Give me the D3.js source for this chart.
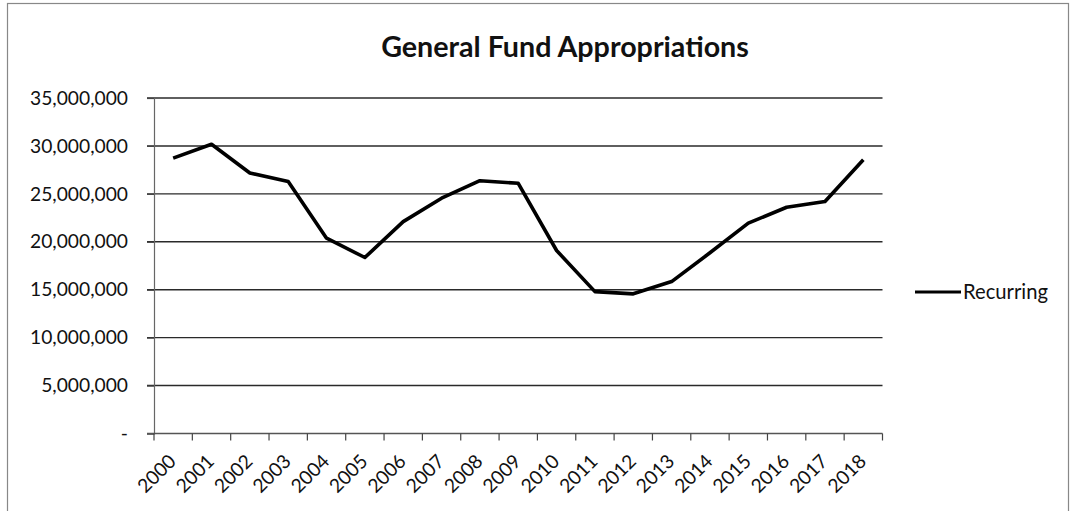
<!DOCTYPE html>
<html>
<head>
<meta charset="utf-8">
<script src="https://cdn.jsdelivr.net/npm/d3@7"></script>
<style>
  html, body { margin: 0; padding: 0; background: #fff; }
  svg { display: block; }
  text { font-family: Lato, "Open Sans", sans-serif; fill: #111; }
</style>
</head>
<body>
<svg id="chart" width="1076" height="511"></svg>
<script>
// ---- data ----
const years = ["2000","2001","2002","2003","2004","2005","2006","2007","2008","2009",
               "2010","2011","2012","2013","2014","2015","2016","2017","2018"];
const recurring = [28730000, 30180000, 27170000, 26300000, 20380000, 18360000, 22100000,
                   24550000, 26370000, 26100000, 19090000, 14800000, 14570000, 15850000,
                   18850000, 21950000, 23600000, 24200000, 28550000];
const yTickValues = [0, 5000000, 10000000, 15000000, 20000000, 25000000, 30000000, 35000000];
const seriesName = "Recurring";
const chartTitle = "General Fund Appropriations";

// ---- layout ----
const svg = d3.select("#chart");
const plot = { left: 154, right: 882.5, top: 98, bottom: 433.5 };

const x = d3.scaleBand().domain(years).range([plot.left, plot.right]);
const y = d3.scaleLinear().domain([0, 35000000]).range([plot.bottom, plot.top]);

// fit text width helper
function fit(sel, target) {
  const node = sel.node();
  const fs = parseFloat(sel.attr("font-size"));
  const w = node.getComputedTextLength();
  sel.attr("font-size", (fs * target / w).toFixed(2));
}

// outer frame
svg.append("rect")
  .attr("x", 7.5).attr("y", 3.5).attr("width", 1061).attr("height", 520)
  .attr("fill", "none").attr("stroke", "#888").attr("stroke-width", 1.2);

// title
const title = svg.append("text")
  .attr("x", 565).attr("y", 57)
  .attr("text-anchor", "middle")
  .attr("font-weight", "bold")
  .attr("font-size", 32)
  .text(chartTitle);
fit(title, 368);

// gridlines
svg.append("g").selectAll("line")
  .data(yTickValues.filter(d => d > 0))
  .join("line")
  .attr("x1", plot.left - 7).attr("x2", plot.right)
  .attr("y1", d => y(d)).attr("y2", d => y(d))
  .attr("stroke", "#2a2a2a").attr("stroke-width", 1.4);

// y axis
const fmt = d3.format(",");
const yAxis = svg.append("g")
  .attr("transform", `translate(${plot.left},0)`)
  .call(d3.axisLeft(y).tickValues(yTickValues).tickSize(7).tickPadding(19)
    .tickFormat(d => d === 0 ? "-" : fmt(d)));
yAxis.select(".domain").attr("stroke", "#666").attr("stroke-width", 1.2);
yAxis.selectAll(".tick line").attr("stroke", "#444").attr("stroke-width", 1.2);
yAxis.selectAll("text").attr("font-size", 19).attr("fill", "#111");
const ref = yAxis.selectAll("text").filter(d => d === 35000000);
const fsY = parseFloat(ref.attr("font-size")) * 98 / ref.node().getComputedTextLength();
yAxis.selectAll("text").attr("font-size", fsY.toFixed(2)).attr("font-family", "Lato, sans-serif");

// x axis line
const xAxis = svg.append("g")
  .attr("transform", `translate(0,${plot.bottom})`)
  .call(d3.axisBottom(x).tickSize(0).tickPadding(0));
xAxis.select(".domain").remove();
svg.append("line")
  .attr("x1", plot.left - 7).attr("x2", plot.right)
  .attr("y1", plot.bottom).attr("y2", plot.bottom)
  .attr("stroke", "#555").attr("stroke-width", 1.4);
// boundary ticks
const bounds = years.map(d => x(d)).concat([x(years[years.length - 1]) + x.bandwidth()]);
svg.append("g").selectAll("line").data(bounds).join("line")
  .attr("x1", d => d).attr("x2", d => d)
  .attr("y1", plot.bottom).attr("y2", plot.bottom + 7)
  .attr("stroke", "#444").attr("stroke-width", 1.2);
// rotated labels
xAxis.selectAll(".tick text")
  .attr("font-size", fsY.toFixed(2))
  .attr("text-anchor", "end")
  .attr("fill", "#111")
  .attr("dy", 0)
  .attr("y", 0)
  .attr("transform", "translate(4,29) rotate(-45)");

// line
const line = d3.line()
  .x((d, i) => x(years[i]) + x.bandwidth() / 2)
  .y(d => y(d));
svg.append("path")
  .datum(recurring)
  .attr("d", line)
  .attr("fill", "none")
  .attr("stroke", "#000")
  .attr("stroke-width", 3.6)
  .attr("stroke-linejoin", "round");

// legend
svg.append("line")
  .attr("x1", 915).attr("x2", 961).attr("y1", 292).attr("y2", 292)
  .attr("stroke", "#000").attr("stroke-width", 3);
const lg = svg.append("text")
  .attr("x", 963).attr("y", 292).attr("dy", "0.35em")
  .attr("font-size", 19)
  .text(seriesName);
fit(lg, 85);
</script>
</body>
</html>
